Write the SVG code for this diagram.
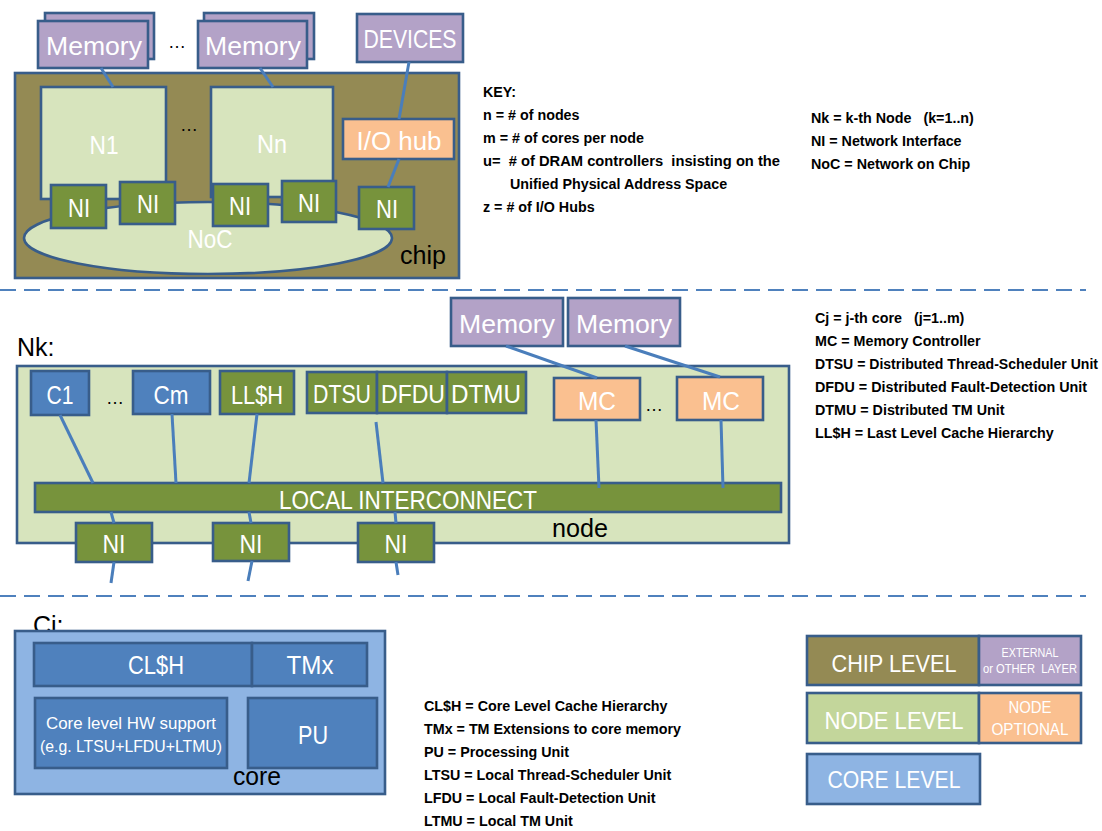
<svg xmlns="http://www.w3.org/2000/svg" width="1102" height="831" viewBox="0 0 1102 831">
<style>
text{font-family:"Liberation Sans",Arial,sans-serif}
.b{stroke:#385D8A;stroke-width:2.6}
.olive{fill:#948A54}.purple{fill:#B3A2C7}.lg{fill:#D7E4BD}.lg2{fill:#C3D69B}.gr{fill:#77933C}.bl{fill:#4F81BD}.pe{fill:#FAC090}.lb{fill:#8EB4E3}
.w{fill:#FFFFFF;font-size:25px;text-anchor:middle}
.k{fill:#000000;font-size:25px}
.key{fill:#000000;font-size:14.3px;font-weight:bold}
.dot{fill:#000000;font-size:18px;text-anchor:middle}
.c{stroke:#4A7EBB;stroke-width:3;fill:none}
.dash{stroke:#4F81BD;stroke-width:2;stroke-dasharray:16 8;fill:none}
</style>
<rect width="1102" height="831" fill="#FFFFFF"/>

<g id="separators">
<line class="dash" x1="0" y1="290" x2="1086" y2="290"/>
<line class="dash" x1="0" y1="596" x2="1086" y2="596"/>
</g>

<!-- ===== CHIP LEVEL ===== -->
<g id="chip">
<rect class="olive b" x="15" y="73" width="444" height="205"/>
<text class="k" x="400" y="264" textLength="46" lengthAdjust="spacingAndGlyphs">chip</text>
</g>
<g id="memory1">
<rect class="purple b" x="45" y="13" width="109" height="46"/>
<rect class="purple b" x="38" y="21" width="110" height="47"/>
<text class="w" x="94" y="55" textLength="96" lengthAdjust="spacingAndGlyphs">Memory</text>
</g>
<text class="dot" x="177" y="48">…</text>
<g id="memory2">
<rect class="purple b" x="204" y="13" width="110" height="46"/>
<rect class="purple b" x="198" y="21" width="109" height="47"/>
<text class="w" x="253" y="55" textLength="96" lengthAdjust="spacingAndGlyphs">Memory</text>
</g>
<g id="devices">
<rect class="purple b" x="357" y="14" width="106" height="48"/>
<text class="w" x="410" y="48" textLength="93" lengthAdjust="spacingAndGlyphs">DEVICES</text>
</g>
<g id="noc">
<ellipse class="lg b" cx="208" cy="238" rx="184" ry="36"/>
<text class="w" x="210" y="248" textLength="45" lengthAdjust="spacingAndGlyphs">NoC</text>
</g>
<g id="n1">
<rect class="lg b" x="41" y="87" width="125" height="112"/>
<text class="w" x="104" y="154" textLength="29" lengthAdjust="spacingAndGlyphs">N1</text>
</g>
<text class="dot" x="189" y="131">…</text>
<g id="nn">
<rect class="lg b" x="211" y="87" width="122" height="110"/>
<text class="w" x="272" y="153" textLength="30" lengthAdjust="spacingAndGlyphs">Nn</text>
</g>
<g id="iohub">
<rect class="pe b" x="343" y="119" width="111" height="40"/>
<text class="w" x="399" y="150" textLength="85" lengthAdjust="spacingAndGlyphs">I/O hub</text>
</g>
<g id="ni-c1"><rect class="gr b" x="51" y="185" width="55" height="43"/><text class="w" x="79" y="217" textLength="22" lengthAdjust="spacingAndGlyphs">NI</text></g>
<g id="ni-c2"><rect class="gr b" x="120" y="182" width="55" height="42"/><text class="w" x="148" y="213" textLength="22" lengthAdjust="spacingAndGlyphs">NI</text></g>
<g id="ni-c3"><rect class="gr b" x="213" y="184" width="55" height="42"/><text class="w" x="240" y="215" textLength="22" lengthAdjust="spacingAndGlyphs">NI</text></g>
<g id="ni-c4"><rect class="gr b" x="282" y="181" width="54" height="41"/><text class="w" x="309" y="212" textLength="22" lengthAdjust="spacingAndGlyphs">NI</text></g>
<g id="ni-c5"><rect class="gr b" x="359" y="187" width="55" height="42"/><text class="w" x="387" y="218" textLength="22" lengthAdjust="spacingAndGlyphs">NI</text></g>

<g id="key1">
<text class="key" x="483" y="97">KEY:</text>
<text class="key" x="483" y="120">n = # of nodes</text>
<text class="key" x="483" y="143">m = # of cores per node</text>
<text class="key" x="483" y="166" xml:space="preserve" textLength="297" lengthAdjust="spacingAndGlyphs">u=  # of DRAM controllers  insisting on the</text>
<text class="key" x="510" y="189">Unified Physical Address Space</text>
<text class="key" x="483" y="212">z = # of I/O Hubs</text>
<text class="key" x="811" y="123" xml:space="preserve">Nk = k-th Node   (k=1..n)</text>
<text class="key" x="811" y="146">NI = Network Interface</text>
<text class="key" x="811" y="169">NoC = Network on Chip</text>
</g>

<!-- ===== NODE LEVEL ===== -->
<text class="k" x="17" y="356">Nk:</text>
<g id="node">
<rect class="lg b" x="17" y="366" width="772" height="177"/>
<text class="k" x="552" y="537" textLength="56" lengthAdjust="spacingAndGlyphs">node</text>
</g>
<g id="memory3"><rect class="purple b" x="451" y="298" width="112" height="48"/><text class="w" x="507" y="333" textLength="96" lengthAdjust="spacingAndGlyphs">Memory</text></g>
<g id="memory4"><rect class="purple b" x="568" y="298" width="112" height="48"/><text class="w" x="624" y="333" textLength="96" lengthAdjust="spacingAndGlyphs">Memory</text></g>
<g id="c1"><rect class="bl b" x="31" y="371" width="58" height="44"/><text class="w" x="60" y="404" textLength="27" lengthAdjust="spacingAndGlyphs">C1</text></g>
<text class="dot" x="115" y="404">…</text>
<g id="cm"><rect class="bl b" x="133" y="371" width="77" height="43"/><text class="w" x="171" y="404" textLength="35" lengthAdjust="spacingAndGlyphs">Cm</text></g>
<g id="llsh"><rect class="gr b" x="220" y="371" width="74" height="43"/><text class="w" x="257" y="404" textLength="52" lengthAdjust="spacingAndGlyphs">LL$H</text></g>
<g id="dtsu"><rect class="gr b" x="307" y="372" width="70" height="41"/><text class="w" x="342" y="403" textLength="58" lengthAdjust="spacingAndGlyphs">DTSU</text></g>
<g id="dfdu"><rect class="gr b" x="377" y="372" width="70" height="41"/><text class="w" x="413" y="403" textLength="64" lengthAdjust="spacingAndGlyphs">DFDU</text></g>
<g id="dtmu"><rect class="gr b" x="447" y="372" width="79" height="41"/><text class="w" x="486" y="403" textLength="70" lengthAdjust="spacingAndGlyphs">DTMU</text></g>
<g id="mc1"><rect class="pe b" x="554" y="378" width="86" height="42"/><text class="w" x="597" y="410" textLength="38" lengthAdjust="spacingAndGlyphs">MC</text></g>
<text class="dot" x="654" y="411">…</text>
<g id="mc2"><rect class="pe b" x="677" y="377" width="86" height="43"/><text class="w" x="721" y="410" textLength="38" lengthAdjust="spacingAndGlyphs">MC</text></g>
<g id="local-interconnect"><rect class="gr b" x="35" y="483" width="746" height="29"/><text class="w" x="408" y="509" textLength="258" lengthAdjust="spacingAndGlyphs">LOCAL INTERCONNECT</text></g>
<g id="ni-n1"><rect class="gr b" x="76" y="523" width="76" height="39"/><text class="w" x="114" y="553" textLength="23" lengthAdjust="spacingAndGlyphs">NI</text></g>
<g id="ni-n2"><rect class="gr b" x="213" y="523" width="76" height="38"/><text class="w" x="251" y="553" textLength="23" lengthAdjust="spacingAndGlyphs">NI</text></g>
<g id="ni-n3"><rect class="gr b" x="358" y="523" width="76" height="39"/><text class="w" x="396" y="553" textLength="23" lengthAdjust="spacingAndGlyphs">NI</text></g>

<g id="key2">
<text class="key" x="815" y="323" xml:space="preserve">Cj = j-th core   (j=1..m)</text>
<text class="key" x="815" y="346">MC = Memory Controller</text>
<text class="key" x="815" y="369" textLength="283" lengthAdjust="spacingAndGlyphs">DTSU = Distributed Thread-Scheduler Unit</text>
<text class="key" x="815" y="392" textLength="272" lengthAdjust="spacingAndGlyphs">DFDU = Distributed Fault-Detection Unit</text>
<text class="key" x="815" y="415">DTMU = Distributed TM Unit</text>
<text class="key" x="815" y="438">LL$H = Last Level Cache Hierarchy</text>
</g>

<!-- ===== CORE LEVEL ===== -->
<text class="k" x="33" y="634">Cj:</text>
<g id="core">
<rect class="lb b" x="15" y="631" width="370" height="163"/>
<text class="k" x="233" y="785" textLength="48" lengthAdjust="spacingAndGlyphs">core</text>
</g>
<g id="clsh"><rect class="bl b" x="34" y="643" width="218" height="43"/><text class="w" x="156" y="674" textLength="56" lengthAdjust="spacingAndGlyphs">CL$H</text></g>
<g id="tmx"><rect class="bl b" x="252" y="643" width="115" height="43"/><text class="w" x="310" y="674" textLength="47" lengthAdjust="spacingAndGlyphs">TMx</text></g>
<g id="hw-support"><rect class="bl b" x="35" y="698" width="192" height="70"/>
<text class="w" x="131" y="729" style="font-size:17px" textLength="170" lengthAdjust="spacingAndGlyphs">Core level HW support</text>
<text class="w" x="131" y="752" style="font-size:17px" textLength="182" lengthAdjust="spacingAndGlyphs">(e.g. LTSU+LFDU+LTMU)</text></g>
<g id="pu"><rect class="bl b" x="248" y="698" width="129" height="70"/><text class="w" x="313" y="744" textLength="30" lengthAdjust="spacingAndGlyphs">PU</text></g>

<g id="key3">
<text class="key" x="424" y="711">CL$H = Core Level Cache Hierarchy</text>
<text class="key" x="424" y="734">TMx = TM Extensions to core memory</text>
<text class="key" x="424" y="757">PU = Processing Unit</text>
<text class="key" x="424" y="780">LTSU = Local Thread-Scheduler Unit</text>
<text class="key" x="424" y="803">LFDU = Local Fault-Detection Unit</text>
<text class="key" x="424" y="826">LTMU = Local TM Unit</text>
</g>

<!-- ===== LEGEND ===== -->
<g id="legend-chip"><rect class="olive b" x="807" y="636" width="172" height="49"/><text class="w" x="894" y="672" style="font-size:24px" textLength="125" lengthAdjust="spacingAndGlyphs">CHIP LEVEL</text></g>
<g id="legend-external"><rect class="purple b" x="979" y="636" width="102" height="49"/>
<text class="w" x="1030" y="657" style="font-size:13px" textLength="57" lengthAdjust="spacingAndGlyphs">EXTERNAL</text>
<text class="w" x="1030" y="673" style="font-size:13px" textLength="94" lengthAdjust="spacingAndGlyphs" xml:space="preserve">or OTHER  LAYER</text></g>
<g id="legend-node"><rect class="lg2 b" x="807" y="693" width="172" height="50"/><text class="w" x="894" y="729" style="font-size:24px" textLength="139" lengthAdjust="spacingAndGlyphs">NODE LEVEL</text></g>
<g id="legend-optional"><rect class="pe b" x="979" y="693" width="102" height="50"/>
<text class="w" x="1030" y="713" style="font-size:16px" textLength="43" lengthAdjust="spacingAndGlyphs">NODE</text>
<text class="w" x="1030" y="735" style="font-size:16px" textLength="77" lengthAdjust="spacingAndGlyphs">OPTIONAL</text></g>
<g id="legend-core"><rect class="lb b" x="807" y="754" width="173" height="50"/><text class="w" x="894" y="788" style="font-size:24px" textLength="133" lengthAdjust="spacingAndGlyphs">CORE LEVEL</text></g>

<g id="connectors">
<line class="c" x1="101" y1="68" x2="113" y2="87"/>
<line class="c" x1="260" y1="68" x2="273" y2="87"/>
<line class="c" x1="409" y1="62" x2="399" y2="119"/>
<line class="c" x1="399" y1="159" x2="388" y2="187"/>
<line class="c" x1="60" y1="415" x2="93" y2="483"/>
<line class="c" x1="172" y1="414" x2="176" y2="483"/>
<line class="c" x1="257" y1="414" x2="249" y2="483"/>
<line class="c" x1="376" y1="422" x2="383" y2="483"/>
<line class="c" x1="596" y1="420" x2="599" y2="488"/>
<line class="c" x1="721" y1="420" x2="723" y2="488"/>
<line class="c" x1="506" y1="346" x2="597" y2="378"/>
<line class="c" x1="625" y1="346" x2="720" y2="377"/>
<line class="c" x1="111" y1="512" x2="114" y2="523"/>
<line class="c" x1="114" y1="562" x2="111" y2="583"/>
<line class="c" x1="249" y1="512" x2="251" y2="523"/>
<line class="c" x1="252" y1="561" x2="248" y2="581"/>
<line class="c" x1="395" y1="512" x2="396" y2="523"/>
<line class="c" x1="396" y1="562" x2="398" y2="575"/>
</g>
</svg>
